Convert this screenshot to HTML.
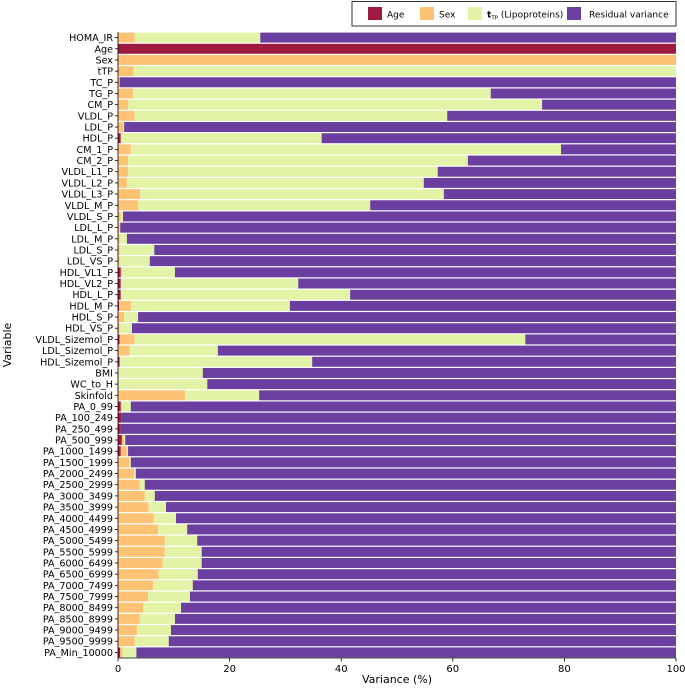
<!DOCTYPE html>
<html><head><meta charset="utf-8"><style>
body{margin:0;background:#fff;font-family:"Liberation Sans","DejaVu Sans",sans-serif;}
svg text{font-family:"DejaVu Sans","Liberation Sans",sans-serif;}
</style></head><body>
<svg id="chart" width="685" height="687">
<g id="legend">
<rect x="352" y="1.5" width="324" height="24.5" fill="#fff" stroke="#000" stroke-width="0.8"/>
<rect x="368" y="7" width="14" height="13" fill="#9e1a3f"/>
<text x="387" y="17.5" font-size="9">Age</text>
<rect x="420" y="7" width="14" height="13" fill="#fdc274"/>
<text x="439" y="17.5" font-size="9">Sex</text>
<rect x="468" y="7" width="14" height="13" fill="#e2f2a6"/>
<text x="487" y="17.5" font-size="9"><tspan font-weight="bold">t</tspan><tspan font-size="5.5" dy="2">TP</tspan><tspan dy="-2"> (Lipoproteins)</tspan></text>
<rect x="567" y="7" width="14" height="13" fill="#6a3fa0"/>
<text x="589" y="17.5" font-size="9">Residual variance</text>
</g>
</svg>
<script>
const categories=["HOMA_IR","Age","Sex","tTP","TC_P","TG_P","CM_P","VLDL_P","LDL_P","HDL_P","CM_1_P","CM_2_P","VLDL_L1_P","VLDL_L2_P","VLDL_L3_P","VLDL_M_P","VLDL_S_P","LDL_L_P","LDL_M_P","LDL_S_P","LDL_VS_P","HDL_VL1_P","HDL_VL2_P","HDL_L_P","HDL_M_P","HDL_S_P","HDL_VS_P","VLDL_Sizemol_P","LDL_Sizemol_P","HDL_Sizemol_P","BMI","WC_to_H","Skinfold","PA_0_99","PA_100_249","PA_250_499","PA_500_999","PA_1000_1499","PA_1500_1999","PA_2000_2499","PA_2500_2999","PA_3000_3499","PA_3500_3999","PA_4000_4499","PA_4500_4999","PA_5000_5499","PA_5500_5999","PA_6000_6499","PA_6500_6999","PA_7000_7499","PA_7500_7999","PA_8000_8499","PA_8500_8999","PA_9000_9499","PA_9500_9999","PA_Min_10000"];
const ageVals=[0,100,0,0,0,0,0,0,0,0.5,0,0,0,0,0,0,0,0,0,0,0,0.5,0.5,0.5,0.2,0,0,0.3,0,0.3,0,0,0,0.5,0.6,0.5,0.7,0.5,0,0,0,0,0,0,0,0,0,0,0,0,0,0,0,0,0,0.4];
const sexVals=[3,0,100,2.8,0.3,2.7,1.8,3,0.9,0,2.3,1.8,1.8,1.6,4,3.6,0.5,0.3,0.3,0.3,0.3,0.2,0,0,2.1,1.1,0.3,2.7,2.1,0,0,0,12,0.2,0,0,0.4,1.1,2,2.9,3.9,4.8,5.5,6.4,7.2,8.4,8.4,8,7.3,6.3,5.4,4.5,3.9,3.4,3,0.4];
const ttpVals=[22.5,0,0,97.2,0,64.1,74.2,56,0.2,36,77.1,60.9,55.5,53.2,54.4,41.6,0.4,0.1,1.3,6.2,5.4,9.5,31.8,41.1,28.5,2.5,2.2,70,15.8,34.5,15.2,16,13.3,1.6,0,0,0.2,0.2,0.3,0.3,0.9,1.8,3.1,4,5.2,5.8,6.6,7,7,7.1,7.5,6.8,6.3,6.1,6.1,2.5];
const xTicks=[0,20,40,60,80,100];
const NS="http://www.w3.org/2000/svg";
const svg=document.getElementById('chart');
const L=118,R=676,T=32,B=658;
const n=categories.length, band=(B-T)/n;
const xs=v=>L+(R-L)*v/100;
const ys=i=>T+i*band;
function mk(tag,attrs){const e=document.createElementNS(NS,tag);for(const k in attrs)e.setAttribute(k,attrs[k]);svg.appendChild(e);return e;}
const colors=["#9e1a3f","#fdc274","#e2f2a6","#6a3fa0"];
const segNames=["age","sex","ttp","residual"];
categories.forEach((c,i)=>{
  const vals=[ageVals[i],sexVals[i],ttpVals[i]];
  vals.push(Math.max(0,100-vals[0]-vals[1]-vals[2]));
  let acc=0;
  vals.forEach((v,k)=>{
    if(v<=0)return;
    const r=mk('rect',{x:xs(acc),y:ys(i)+0.6,width:xs(acc+v)-xs(acc),height:band-1.2,fill:colors[k]});
    
    
    acc+=v;
  });
  const t=mk('text',{x:L-5,y:ys(i)+band/2+3.5,'text-anchor':'end','font-size':'9.6',fill:'#000'});
  t.textContent=c;
  
  
  const tk=mk('line',{x1:L-3,x2:L,y1:ys(i)+band/2,y2:ys(i)+band/2,stroke:'#000','stroke-width':0.8});
  
  
});
const ax=mk('line',{x1:L,x2:R,y1:B,y2:B,stroke:'#000','stroke-width':0.8});


const ay=mk('line',{x1:L,x2:L,y1:T,y2:B,stroke:'#000','stroke-width':0.8});


xTicks.forEach(v=>{
  const l=mk('line',{x1:xs(v),x2:xs(v),y1:B,y2:B+3.5,stroke:'#000','stroke-width':0.8});
  
  
  const t=mk('text',{x:xs(v),y:B+14,'text-anchor':'middle','font-size':'10'});
  t.textContent=v;
  
  
});
const xt=mk('text',{x:(L+R)/2,y:683,'text-anchor':'middle','font-size':'11'});
xt.textContent='Variance (%)';


const yt=mk('text',{x:11,y:(T+B)/2,'text-anchor':'middle','font-size':'11',transform:'rotate(-90 11 '+((T+B)/2)+')'});
yt.textContent='Variable';


</script>
</body></html>
